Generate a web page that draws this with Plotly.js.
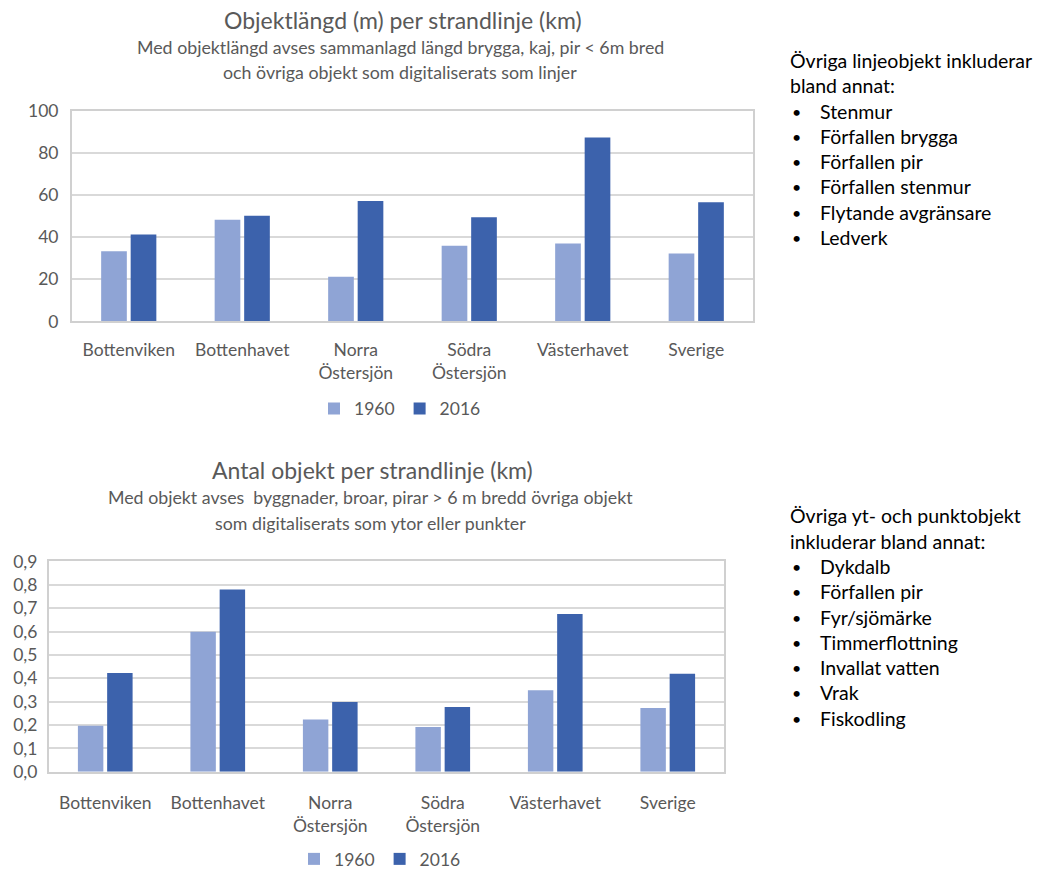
<!DOCTYPE html>
<html><head><meta charset="utf-8">
<script src="https://cdn.plot.ly/plotly-3.0.1.min.js"></script>
<style>html,body{margin:0;padding:0;background:#fff}</style>
</head><body><div id="chart" style="width:1039px;height:877px"></div>
<script>
const categories = ["Bottenviken","Bottenhavet","Norra<br>Östersjön","Södra<br>Östersjön","Västerhavet","Sverige"];
const length1960 = [33.4, 48.4, 21.2, 36.0, 37.0, 32.3];
const length2016 = [41.3, 50.2, 57.3, 49.5, 87.4, 56.7];
const count1960 = [0.197, 0.599, 0.224, 0.192, 0.349, 0.273];
const count2016 = [0.423, 0.780, 0.299, 0.277, 0.675, 0.420];
const seriesNames = ["1960","2016"];
const title1 = "Objektlängd (m) per strandlinje (km)";
const sub1 = ["Med objektlängd avses sammanlagd längd brygga, kaj, pir < 6m bred","och övriga objekt som digitaliserats som linjer"];
const title2 = "Antal objekt per strandlinje (km)";
const sub2 = ["Med objekt avses  byggnader, broar, pirar > 6 m bredd övriga objekt","som digitaliserats som ytor eller punkter"];
const note1Head = ["Övriga linjeobjekt inkluderar","bland annat:"];
const note1Items = ["Stenmur","Förfallen brygga","Förfallen pir","Förfallen stenmur","Flytande avgränsare","Ledverk"];
const note2Head = ["Övriga yt- och punktobjekt","inkluderar bland annat:"];
const note2Items = ["Dykdalb","Förfallen pir","Fyr/sjömärke","Timmerflottning","Invallat vatten","Vrak","Fiskodling"];

const W = 1039, H = 877;
const px = x => x / W, py = y => 1 - y / H;
const c1 = "#8FA4D5", c2 = "#3C62AC";
const FONT = "Lato, 'Open Sans', sans-serif";
const grey = "#595959";

const traces = [
  {type:"bar", x:categories, y:length1960, name:seriesNames[0], marker:{color:c1}, xaxis:"x", yaxis:"y", legend:"legend"},
  {type:"bar", x:categories, y:length2016, name:seriesNames[1], marker:{color:c2}, xaxis:"x", yaxis:"y", legend:"legend"},
  {type:"bar", x:categories, y:count1960, name:seriesNames[0], marker:{color:c1}, xaxis:"x2", yaxis:"y2", legend:"legend2"},
  {type:"bar", x:categories, y:count2016, name:seriesNames[1], marker:{color:c2}, xaxis:"x2", yaxis:"y2", legend:"legend2"}
];

const ann = [];
function center(text, x, y, size){
  ann.push({text, x:px(x), y:py(y), xref:"paper", yref:"paper", xanchor:"center", yanchor:"middle", showarrow:false, font:{family:FONT, size, color:grey}});
}
center(title1, 403, 20, 23);
center(sub1[0], 400, 47, 17.8);
center(sub1[1], 400, 73, 17.8);
center(title2, 372, 474, 23);
center(sub2[0], 370, 501, 17.8);
center(sub2[1], 370, 527, 17.8);

function note(head, items, x, y0){
  const lh = 25.5;
  let y = y0;
  const f = {family:FONT, size:19.5, color:"#000"};
  head.forEach(t => {
    ann.push({text:t, x:px(x), y:py(y), xref:"paper", yref:"paper", xanchor:"left", yanchor:"middle", showarrow:false, font:f});
    y += lh;
  });
  items.forEach(t => {
    ann.push({text:"•", x:px(x+2), y:py(y), xref:"paper", yref:"paper", xanchor:"left", yanchor:"middle", showarrow:false, font:{family:FONT, size:16, color:"#000"}});
    ann.push({text:t, x:px(x+30), y:py(y), xref:"paper", yref:"paper", xanchor:"left", yanchor:"middle", showarrow:false, font:f});
    y += lh;
  });
}
note(note1Head, note1Items, 788, 61);
note(note2Head, note2Items, 788, 520);

const axisX = {showgrid:false, showline:true, linecolor:"#d0d0d0", linewidth:2, mirror:true, ticks:"", tickfont:{family:FONT, size:17.5, color:grey}, fixedrange:true};
const axisY = {showgrid:true, gridcolor:"#d9d9d9", gridwidth:2, showline:true, linecolor:"#d0d0d0", linewidth:2, mirror:true, zeroline:false, ticks:"", tickfont:{family:FONT, size:17.5, color:grey}, ticklabelstandoff:8};

const layout = {
  width:W, height:H, margin:{l:0,r:0,t:0,b:0},
  paper_bgcolor:"#fff", plot_bgcolor:"#fff",
  font:{family:FONT, color:grey},
  separators:",.",
  barmode:"group", bargap:0.48, bargroupgap:0.13,
  xaxis:Object.assign({}, axisX, {domain:[px(72), px(753)], anchor:"y", ticklabelstandoff:12}),
  yaxis:Object.assign({}, axisY, {domain:[py(324), py(112)], range:[0,100], dtick:20, anchor:"x"}),
  xaxis2:Object.assign({}, axisX, {domain:[px(49), px(724)], anchor:"y2", ticklabelstandoff:14}),
  yaxis2:Object.assign({}, axisY, {domain:[py(778), py(566)], range:[0,0.9], dtick:0.1, tickformat:".1f", anchor:"x2", ticklabelstandoff:6}),
  legend:{orientation:"h", x:px(400), y:py(412), xanchor:"center", yanchor:"middle", font:{family:FONT, size:17.5, color:grey}, itemwidth:30, tracegroupgap:0},
  legend2:{orientation:"h", x:px(380), y:py(866), xanchor:"center", yanchor:"middle", font:{family:FONT, size:17.5, color:grey}, itemwidth:30, tracegroupgap:0},
  annotations:ann,
  showlegend:true
};
Plotly.newPlot("chart", traces, layout, {displayModeBar:false, staticPlot:true});
</script></body></html>
